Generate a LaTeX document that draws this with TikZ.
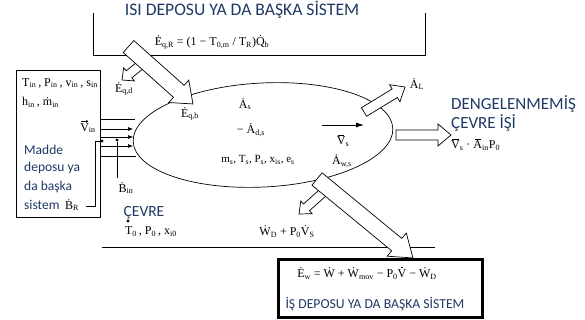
\documentclass[tikz,border=0pt]{standalone}
\usepackage{fontspec}
\setmainfont{Liberation Serif}
\newfontfamily\carl{Carlito}
\usetikzlibrary{arrows.meta,shapes.geometric}
\definecolor{navy}{HTML}{1F3864}
\newcommand\sbb[1]{\textsubscript{#1}}
\newcommand\rdot[1]{\setbox0\hbox{#1}\hbox{\rlap{\hbox to\wd0{\hss\raise\dimexpr\ht0+1.6pt\relax\hbox{\vrule width 1.2pt height 1.2pt}\hss}}\box0}}
\newcommand\rbar[1]{\setbox0\hbox{#1}\hbox{\rlap{\hbox to\wd0{\hss\raise\dimexpr\ht0+1.3pt\relax\hbox{\vrule width 0.75\wd0 height 0.5pt}\hss}}\box0}}
\newcommand\hollowarr[7]{%
  \pgfmathsetmacro\hal{veclen(#3-#1,#4-#2)}%
  \pgfmathsetmacro\haa{atan2(-(#4-#2),#3-#1)}%
  \begin{scope}[shift={(#1,#2)},rotate=\haa]
    \draw[harrow] (0,-#5) -- (\hal-#7,-#5) -- (\hal-#7,-#6) -- (\hal,0)
      -- (\hal-#7,#6) -- (\hal-#7,#5) -- (0,#5) -- cycle;
  \end{scope}}
\begin{document}
\begin{tikzpicture}[x=1pt,y=-1pt,
  harrow/.style={draw=black,fill=white,line width=0.7pt,line join=miter},
  mth/.style={inner sep=0pt,font=\fontsize{12}{14}\selectfont},
  sans/.style={inner sep=0pt,text=navy,font=\carl\fontsize{13.5}{15}\selectfont},
  pipe/.style={line width=0.6pt},
  pipearr/.style={line width=0.6pt,-{Latex[length=5pt,width=4pt]}},
  dotc/.style={circle,fill=black,inner sep=0pt,minimum size=3.2pt}]
\useasboundingbox (0,0) rectangle (585,320);
% heat reservoir box
\coordinate (tl) at (93,13); \coordinate (bl) at (93,55);
\coordinate (br) at (425,55); \coordinate (tr) at (425,13);
\draw[line width=0.7pt] (tl) -- (bl) -- (br) -- (tr);
% left reservoir box
\node[draw,line width=0.7pt,minimum width=84pt,minimum height=147pt,inner sep=0pt] (lbox) at (58,143.5) {};
% environment line
\coordinate (el) at (102,247); \coordinate (er) at (435,247);
\draw[line width=0.8pt] (el) -- (er);
% system ellipse
\node[draw,ellipse,line width=0.7pt,minimum width=260pt,minimum height=104pt,inner sep=0pt,rotate=3] (sys) at (263,135) {};
% pipes
\coordinate (p1a) at (100,119); \coordinate (p1b) at (135,119);
\coordinate (p2a) at (100,129); \coordinate (p2b) at (133,129);
\coordinate (p3a) at (100,137); \coordinate (p3b) at (133,137);
\coordinate (p4a) at (100,146); \coordinate (p4b) at (133,146);
\coordinate (p5a) at (100,156); \coordinate (p5b) at (136,156);
\draw[pipe] (p1a) -- (p1b);
\draw[pipearr] (p2a) -- (p2b);
\draw[pipearr] (p3a) -- (p3b);
\draw[pipearr] (p4a) -- (p4b);
\draw[pipe] (p5a) -- (p5b);
\node[dotc] (dR) at (102,141) {};
\node[dotc] (dI) at (117,140) {};
\node[mth] (BR) at (72,205) {Ḃ\sbb{R}};
\node[mth] (Bin) at (126,188) {Ḃ\sbb{in}};
\coordinate (bRs) at (86,206);
\draw[line width=0.6pt] (bRs) -- ++(9,0) |- (dR);
\draw[line width=0.6pt] (dI) -- (117,178);
% hollow arrows
\hollowarr{143}{63}{122}{80}{4.5}{8.5}{9}
\hollowarr{128.5}{46.5}{193}{104}{8}{15}{19}
\hollowarr{364}{112}{405}{87}{5}{10}{12}
\hollowarr{396}{135}{451}{135}{5}{11}{13}
\hollowarr{327}{189}{299}{214}{4.5}{8.5}{10}
\hollowarr{317}{179}{413}{258}{8}{15}{21}
% velocity arrow
\coordinate (va) at (322,125); \coordinate (vb) at (364,125);
\draw[line width=0.8pt,-{Latex[length=8pt,width=5pt]}] (va) -- (vb);
% work reservoir box
\node[draw,line width=3pt,minimum width=204pt,minimum height=58pt,inner sep=0pt] (wbox) at (380,288) {};
% texts
\node[sans,font=\carl\fontsize{17.6}{19}\selectfont] (t1) at (242,10) {ISI DEPOSU YA DA BAŞKA SİSTEM};
\node[mth] (f1) at (212,42) {Ė\sbb{q,R} = (1 − T\sbb{0,m} / T\sbb{R})\rdot{Q}\sbb{b}};
\node[mth] (eqd) at (124,89) {Ė\sbb{q,d}};
\node[mth] (eqb) at (190,114) {Ė\sbb{q,b}};
\node[mth,anchor=west] (l1) at (22,83) {T\sbb{in}\,, P\sbb{in}\,, v\sbb{in}\,, s\sbb{in}};
\node[mth,anchor=west] (l2) at (22,102) {h\sbb{in}\,, ṁ\sbb{in}};
\node[mth] (vin) at (88,128) {V\sbb{in}};
\draw[line width=0.5pt,-{Straight Barb[length=1.6pt,width=2.4pt]}] ([xshift=0.8pt,yshift=1.6pt]vin.north west) -- ++(7.5,0);
\node[sans,anchor=west] (m1) at (24,150) {Madde};
\node[sans,anchor=west] (m2) at (24,168) {deposu ya};
\node[sans,anchor=west] (m3) at (24,187) {da başka};
\node[sans,anchor=west] (m4) at (24,205) {sistem};
\node[mth] (As) at (245,104) {Ȧ\sbb{s}};
\node[mth] (Ads) at (251,130) {− Ȧ\sbb{d,s}};
\node[mth,font=\fontsize{11}{13}\selectfont] (ms) at (258,160) {m\sbb{s}, T\sbb{s}, P\sbb{s}, x\sbb{is}, e\sbb{s}};
\node[mth] (Vs) at (343,141) {\rbar{V}\sbb{s}};
\node[mth] (Aws) at (342,161) {Ȧ\sbb{w,s}};
\node[mth] (AL) at (417,84) {Ȧ\sbb{L}};
\node[sans,anchor=west,font=\carl\fontsize{17}{19}\selectfont] (d1) at (451,104) {DENGELENMEMİŞ};
\node[sans,anchor=west,font=\carl\fontsize{17}{19}\selectfont] (d2) at (451,123) {ÇEVRE İŞİ};
\node[mth,anchor=west] (d3) at (451,145) {\rbar{V}\sbb{s} · \rbar{A}\sbb{in}P\sbb{0}};
\node[sans,font=\carl\fontsize{15.5}{17}\selectfont] (cev) at (144,213) {ÇEVRE};
\node[dotc] (cdot) at (128,221) {};
\node[mth] (T0) at (151,232) {T\sbb{0}\,, P\sbb{0}\,, x\sbb{i0}};
\node[mth] (WD) at (287,231) {Ẇ\sbb{D} + P\sbb{0}\rdot{V}\sbb{S}};
\node[mth] (Ew) at (367,273) {Ė\sbb{w} = Ẇ + Ẇ\sbb{mov} − P\sbb{0}\rdot{V} − Ẇ\sbb{D}};
\node[sans,font=\carl\fontsize{13.7}{15}\selectfont] (wt) at (375,304) {İŞ DEPOSU YA DA BAŞKA SİSTEM};
\end{tikzpicture}
\end{document}
